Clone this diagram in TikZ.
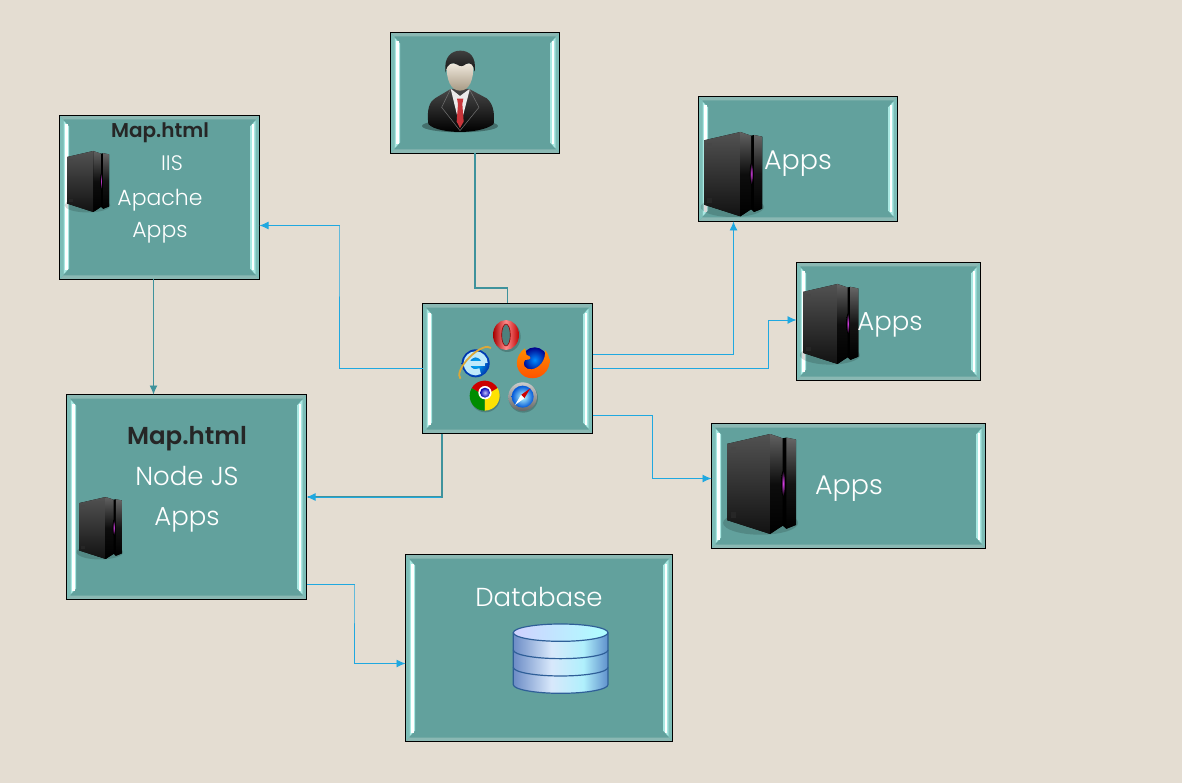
\documentclass[tikz,border=0pt]{standalone}
\usepackage{fontspec}
\setmainfont[BoldFont={Poppins}]{Poppins Light}
\newfontfamily\boldface{Poppins SemiBold}
\usetikzlibrary{arrows.meta,calc}
\definecolor{bgc}{HTML}{E4DDD2}
\definecolor{panelc}{HTML}{62A19D}
\definecolor{bandc}{HTML}{8AB8B3}
\definecolor{sidec}{HTML}{7CBDB7}
\definecolor{stripc}{HTML}{A9E8E2}
\definecolor{bluec}{HTML}{1FA8E0}
\definecolor{tealc}{HTML}{3E929C}
\definecolor{darktxt}{HTML}{262626}
\definecolor{dba}{HTML}{6C8CC6}
\definecolor{dbb}{HTML}{D8E8FB}
\definecolor{dbc}{HTML}{B0F0FC}
\definecolor{dbd}{HTML}{5F90CC}
\definecolor{dbedge}{HTML}{2F5F98}
\definecolor{glow}{HTML}{E040F0}
\definecolor{orbit}{HTML}{DBA83A}
\definecolor{facetop}{HTML}{EFE8DC}
\definecolor{facebot}{HTML}{A89A84}
\definecolor{tiec}{HTML}{C8353A}
\pgfdeclarehorizontalshading{dbshade}{100bp}{color(0bp)=(dba);color(25bp)=(dba);color(45bp)=(dbb);color(62bp)=(dbc);color(75bp)=(dbd);color(100bp)=(dbd)}
\tikzset{
  x=1pt,y=-1pt,
  panel/.style={draw=black,line width=1pt,fill=panelc,inner sep=0pt,outer sep=0pt,anchor=north west,
    path picture={
      \coordinate (nw) at (path picture bounding box.north west);
      \coordinate (ne) at (path picture bounding box.north east);
      \coordinate (sw) at (path picture bounding box.south west);
      \coordinate (se) at (path picture bounding box.south east);
      \fill[sidec] (nw) -- (sw) -- ($(sw)+(4,-4)$) -- ($(nw)+(4,4)$) -- cycle;
      \fill[sidec] (ne) -- (se) -- ($(se)+(-4,-4)$) -- ($(ne)+(-4,4)$) -- cycle;
      \fill[bandc] (nw) -- (ne) -- ($(ne)+(-4,4)$) -- ($(nw)+(4,4)$) -- cycle;
      \fill[bandc] (sw) -- (se) -- ($(se)+(-4,-4)$) -- ($(sw)+(4,-4)$) -- cycle;
      \fill[stripc] ($(nw)+(4,5)$) -- ($(nw)+(9.5,11)$) -- ($(sw)+(9.5,-11)$) -- ($(sw)+(4,-5)$) -- cycle;
      \fill[stripc] ($(ne)+(-4,5)$) -- ($(ne)+(-9.5,11)$) -- ($(se)+(-9.5,-11)$) -- ($(se)+(-4,-5)$) -- cycle;
      \fill[white] ($(nw)+(5.5,9)$) rectangle ($(sw)+(8,-9)$);
      \fill[white] ($(ne)+(-5.5,9)$) rectangle ($(se)+(-8,-9)$);
    }},
  label text/.style={text=white,inner sep=0pt,font=\fontsize{#1}{#1}\selectfont},
  bold text/.style={text=darktxt,inner sep=0pt,font=\fontsize{#1}{#1}\selectfont\boldface},
  link/.style={bluec,line width=.9pt,-{Latex[length=9pt,width=8pt]}},
  tealink/.style={tealc,line width=1.6pt},
  server/.pic={
    \fill[black,opacity=.15] (85,225) ellipse[x radius=95,y radius=30];
    \fill[black] (0,25) -- (109,0) -- (141,11) -- (150,9) -- (175,14) -- (175,230) -- (150,240) -- (141,232) -- (109,253) -- (0,218) -- cycle;
    \shade[top color=black!68,bottom color=black!93] (0,25) -- (109,0) -- (109,253) -- (0,218) -- cycle;
    \shade[top color=black!62,bottom color=black,middle color=black!95] (109,0) -- (141,11) -- (141,232) -- (109,253) -- cycle;
    \shade[top color=black!60,bottom color=black,middle color=black!92] (150,9) -- (175,14) -- (175,230) -- (150,240) -- cycle;
    \fill[black!72] (10,33) rectangle (24,47);
    \fill[black!85] (10,198) rectangle (24,212);
    \shade[inner color=glow,outer color=black] (142,125) ellipse[x radius=5,y radius=32];
  },
  person/.pic={
    \fill[black,opacity=.3] (240,318) ellipse[x radius=114,y radius=19];
    \shade[top color=black!72,bottom color=black] (145,312) .. controls (140,270) and (148,245) .. (165,235) -- (212,207) -- (268,207) -- (320,235) .. controls (338,250) and (345,275) .. (341,312) .. controls (320,330) and (270,336) .. (240,336) .. controls (210,336) and (160,330) .. (145,312) -- cycle;
    \fill[white!92!black] (212,206) -- (240,322) -- (270,206) -- (240,228) -- cycle;
    \fill[tiec] (231,236) -- (250,236) -- (247,252) -- (251,305) -- (240,324) -- (230,305) -- (234,252) -- cycle;
    \draw[black!55,line width=.5pt] (212,207) -- (185,262) -- (240,332) -- (297,262) -- (268,207);
    \shade[top color=facetop,bottom color=facebot] (240,212) .. controls (212,212) and (198,180) .. (200,130) -- (280,130) .. controls (282,180) and (268,212) .. (240,212) -- cycle;
    \shade[top color=black!75,bottom color=black!92] (197,158) .. controls (190,110) and (215,92) .. (241,92) .. controls (268,92) and (290,110) .. (284,155) .. controls (281,135) and (272,125) .. (258,132) .. controls (250,140) and (240,140) .. (232,134) .. controls (218,124) and (200,130) .. (197,158) -- cycle;
  },
  opera/.pic={
    \fill[black,opacity=.2] (292,170) ellipse[x radius=40,y radius=46];
    \shade[even odd rule,left color=red!65!black,right color=red!75!black,middle color=red!45!white]
      (288,165) ellipse[x radius=39,y radius=45] (288,165) ellipse[x radius=13,y radius=33];
    \fill[even odd rule,red!55!black] (288,165) ellipse[x radius=14,y radius=34] (288,165) ellipse[x radius=12,y radius=32];
  },
  iebrowser/.pic={
    \shade[inner color=cyan!75!blue,outer color=blue!60!black!80!cyan] (197,250) circle[radius=42];
    \draw[cyan!25!white,line width=5pt] (168,252) -- (224,252);
    \draw[cyan!25!white,line width=6pt] (224,250) arc[start angle=0,end angle=-300,radius=27];
    \draw[orbit,line width=1.8pt,rotate around={45:(197,250)}] (132,250) arc[start angle=180,end angle=360,x radius=65,y radius=26];
  },
  firefox/.pic={
    \shade[inner color=blue!45!cyan,outer color=blue!55!black] (374,240) circle[radius=38];
    \shade[top color=orange!90!yellow,bottom color=orange!60!red] (345,205) .. controls (315,225) and (310,270) .. (345,290) .. controls (375,304) and (415,287) .. (419,247) .. controls (418,228) and (412,218) .. (405,210) .. controls (408,240) and (390,264) .. (365,268) .. controls (345,270) and (335,252) .. (345,240) .. controls (362,240) and (370,232) .. (350,225) -- cycle;
  },
  chrome/.pic={
    \fill[black,opacity=.2] (226,352) circle[radius=45];
    \fill[red!80!black] (224,347) -- +(210:45) arc[start angle=210,end angle=330,radius=45] -- cycle;
    \fill[yellow!85!orange] (224,347) -- +(330:45) arc[start angle=330,end angle=450,radius=45] -- cycle;
    \fill[green!55!black] (224,347) -- +(90:45) arc[start angle=90,end angle=210,radius=45] -- cycle;
    \fill[white] (225,338) circle[radius=20];
    \shade[inner color=blue!25!white,outer color=blue!70!black] (225,338) circle[radius=15];
  },
  safari/.pic={
    \fill[black,opacity=.2] (340,354) circle[radius=44];
    \shade[top color=black!20,bottom color=black!60] (338,350) circle[radius=43];
    \shade[inner color=cyan!25!white,outer color=blue!60!cyan!85!black] (338,350) circle[radius=33];
    \fill[red!80!black] (361,325) -- (333,345) -- (343,355) -- cycle;
    \fill[white] (315,375) -- (333,345) -- (343,355) -- cycle;
  },
  dbicon/.pic={
    \foreach \yy/\zz in {352/404,300/352,248/300}{
      \shade[shading=dbshade] (340,\yy) -- (340,\zz) arc[start angle=180,end angle=0,x radius=142,y radius=26] -- (624,\yy) -- cycle;
      \draw[dbedge,line width=1.2pt] (340,\yy) -- (340,\zz) arc[start angle=180,end angle=0,x radius=142,y radius=26] -- (624,\yy);
    }
    \shade[left color=blue!18!white,right color=cyan!32!white] (482,248) ellipse[x radius=142,y radius=26];
    \draw[dbedge,line width=1.2pt] (482,248) ellipse[x radius=142,y radius=26];
  }
}
\begin{document}
\begin{tikzpicture}
\useasboundingbox (0,0) rectangle (1182,783);
\fill[bgc] (0,0) rectangle (1182,783);

\node[panel,minimum width=169pt,minimum height=121pt] (person) at (390.5,32.5) {};
\node[panel,minimum width=170pt,minimum height=130pt] (center) at (422.5,303.5) {};
\node[panel,minimum width=200pt,minimum height=164pt] (map1) at (59.5,115.5) {};
\node[panel,minimum width=240pt,minimum height=205pt] (map2) at (66.5,394.5) {};
\node[panel,minimum width=199pt,minimum height=125pt] (apps1) at (698.5,96.5) {};
\node[panel,minimum width=184pt,minimum height=118pt] (apps2) at (796.5,262.5) {};
\node[panel,minimum width=274pt,minimum height=125pt] (apps3) at (711.5,423.5) {};
\node[panel,minimum width=267pt,minimum height=187pt] (db) at (405.5,554.5) {};

\pic[scale=.3333] at (380,20) {person};
\pic[scale=.3333] at (410,280) {opera};
\pic[scale=.3333] at (410,280) {iebrowser};
\pic[scale=.3333] at (410,280) {firefox};
\pic[scale=.3333] at (410,280) {chrome};
\pic[scale=.3333] at (410,280) {safari};
\pic[scale=.241] at (67,151) {server};
\pic[scale=.245] at (79,497) {server};
\pic[scale=.3333] at (704,132) {server};
\pic[scale=.316] at (803,284) {server};
\pic[scale=.395] at (727,434) {server};
\pic[scale=.3333] at (400,550) {dbicon};

\node[bold text=20] (t1) at (160,133) {Map.html};
\node[label text=21] (t2) at (172,163) {IIS};
\node[label text=22] (t3) at (160,200) {Apache};
\node[label text=22] (t4) at (160,233) {Apps};
\node[bold text=24.5] (t5) at (187,439) {Map.html};
\node[label text=26] (t6) at (187,476) {Node JS};
\node[label text=26] (t7) at (187,520) {Apps};
\node[label text=27] (t8) at (798,164) {Apps};
\node[label text=26] (t9) at (890,325) {Apps};
\node[label text=27] (t10) at (849,489) {Apps};
\node[label text=26] (t11) at (539,597) {Database};

\coordinate (j1) at (475,288);
\draw[tealink] (person.south) |- (j1) -| (center.north);
\coordinate (j3) at (339,226);
\draw[link] (center.west) -| (j3) |- ([yshift=-28pt]map1.east);
\draw[link,color=tealc] ([xshift=-6pt]map1.south) -- ([xshift=-6pt]map1.south |- map2.north);
\draw[tealink] ([xshift=19.5pt]center.south west) |- ([xshift=1pt]map2.east);
\draw[link] ([xshift=18pt]center.south west |- map2.east) -- (map2.east);
\coordinate (j4) at (734,354);
\draw[link] ([yshift=14.5pt]center.east) -| ([xshift=-64.5pt]apps1.south);
\coordinate (j5) at (768,320);
\draw[link] (center.east) -| (j5) |- ([yshift=1.5pt]apps2.west);
\coordinate (j7) at (652,415);
\draw[link] ([yshift=-46.5pt]center.east) -| (j7) |- ([yshift=7.5pt]apps3.west);
\coordinate (j9) at (354,584);
\draw[link] ([yshift=-87.5pt]map2.east) -| (j9) |- ([yshift=-15.5pt]db.west);
\end{tikzpicture}
\end{document}
